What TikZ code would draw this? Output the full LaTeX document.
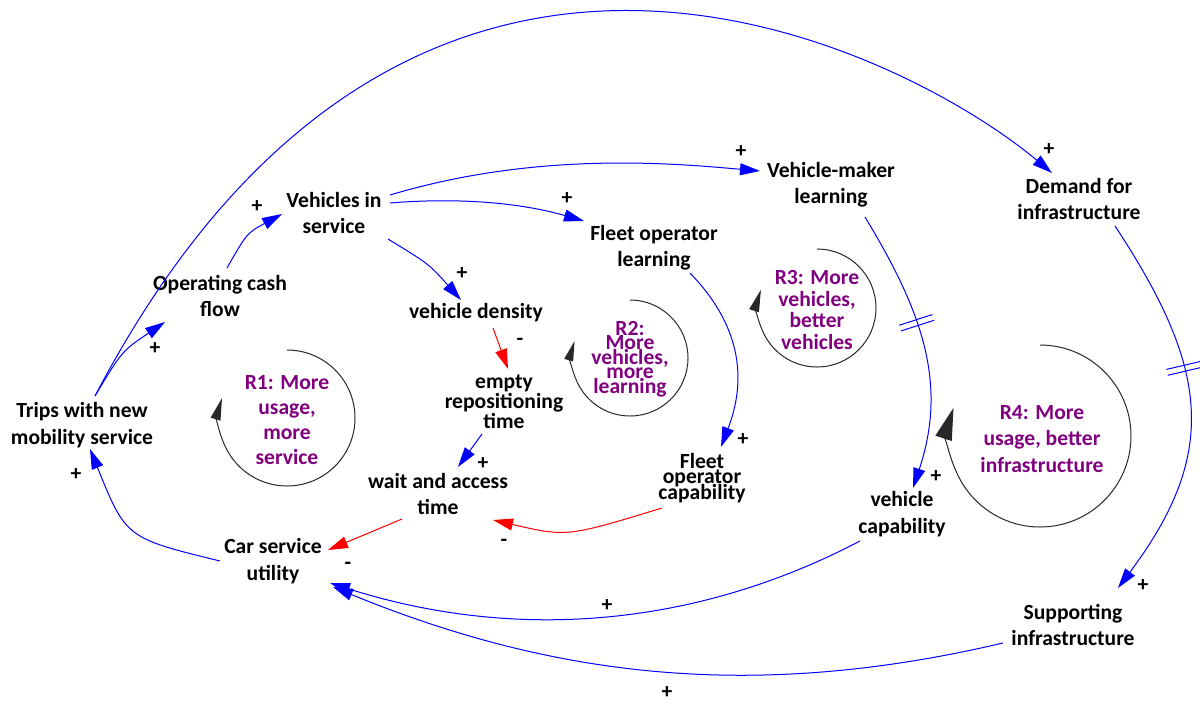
\documentclass[tikz,border=0pt]{standalone}
\usepackage{fontspec}
\setmainfont{Carlito}
\usetikzlibrary{arrows.meta,calc}
\definecolor{linkblue}{RGB}{0,0,255}
\definecolor{linkred}{RGB}{255,0,0}
\definecolor{loopviolet}{RGB}{128,0,128}
\definecolor{loopgray}{RGB}{40,40,40}
% bold label font with a chosen line distance
\newcommand{\varfont}[1]{\fontsize{10.8}{#1}\selectfont\bfseries\lineskiplimit=-20pt\relax}

\begin{document}
\begin{tikzpicture}[x=0.5pt,y=-0.5pt,
  var/.style={font=\varfont{13.2}, align=center, inner sep=0pt, text=black},
  tight/.style={font=\varfont{#1}},
  loopname/.style={var, text=loopviolet},
  sign/.style={font=\varfont{13.2}, inner sep=0pt, text=black},
  pos link/.style={draw=linkblue, line width=0.5pt, -{Triangle[length=10pt,width=6pt]}},
  neg link/.style={draw=linkred, line width=0.5pt, -{Triangle[length=10pt,width=6pt]}},
  loopline/.style={draw=loopgray, line width=0.5pt},
  delaymark/.style={minimum width=2.5pt, minimum height=17pt, inner sep=0pt, sloped},
]
\useasboundingbox (0,0) rectangle (1200,703);

% variables
\node[var] (trips) at (82,425) {Trips with new\\mobility service};
\node[var] (cash) at (220,296) {Operating cash\\flow};
\node[var] (fleet) at (334,213) {Vehicles in\\service};
\node[var] (density) at (476,313) {vehicle density};
\node[var, tight=10] (empty) at (504,402) {empty\\repositioning\\time};
\node[var] (wait) at (438,494) {wait and access\\time};
\node[var] (utility) at (273,561) {Car service\\utility};
\node[var] (fol) at (654,248) {Fleet operator\\learning};
\node[var] (vml) at (831,185) {Vehicle-maker\\learning};
\node[var] (demand) at (1079,199) {Demand for\\infrastructure};
\node[var, tight=7.75] (foc) at (702,478) {Fleet\\operator\\capability};
\node[var] (vcap) at (902,514) {vehicle\\capability};
\node[var] (infra) at (1073,625) {Supporting\\infrastructure};

% loop names
\node[loopname, tight=12.5] (r1) at (287,420) {R1: More\\usage,\\more\\service};
\node[loopname, tight=7.3] (r2) at (630,359) {R2:\\More\\vehicles,\\more\\learning};
\node[loopname, tight=10.8] (r3) at (817,310) {R3: More\\vehicles,\\better\\vehicles};
\node[loopname] (r4) at (1042,439) {R4: More\\usage, better\\infrastructure};

% loop arrows
\draw[loopline, -{Triangle[length=11pt,width=5pt]}] ([shift={(0,-70)}]r1.center) arc[start angle=-90, end angle=197, radius=68];
\draw[loopline, -{Triangle[length=10pt,width=4.5pt]}] ([shift={(0,-59)}]r2.center) arc[start angle=-90, end angle=197, radius=58];
\draw[loopline, -{Triangle[length=11pt,width=5pt]}] ([shift={(0,-61)}]r3.center) arc[start angle=-90, end angle=198, radius=59];
\draw[loopline, -{Triangle[length=16pt,width=8.5pt]}] ([shift={(-2,-94)}]r4.center) arc[start angle=-90, end angle=198, radius=91];

% causal links
\draw[pos link] ($(trips)+(13,-29)$) .. controls (122,351) .. ($(cash)+(-55,26)$);
\draw[pos link] ($(trips)+(13,-29)$) .. controls (415,-215) and (915,58) .. ($(demand)+(-27,-26)$);
\draw[pos link] ($(cash)+(7,-28)$) .. controls (247,233) .. ($(fleet)+(-52,1)$);
\draw[pos link] ($(fleet)+(56,-18)$) .. controls (540,150) and (680,164) .. ($(vml)+(-71,-14)$);
\draw[pos link] ($(fleet)+(56,-10)$) .. controls (450,198) and (514,201) .. ($(fol)+(-70,-27)$);
\draw[pos link] ($(fleet)+(54,26)$) .. controls (429,264) .. ($(density)+(-15,-13)$);
\draw[neg link] ($(density)+(17,15)$) -- ($(empty)+(4,-33)$);
\draw[pos link] ($(empty)+(-22,32)$) -- ($(wait)+(20,-27)$);
\draw[neg link] ($(foc)+(-40,30)$) .. controls (567,537) .. ($(wait)+(55,26)$);
\draw[neg link] ($(wait)+(-36,25)$) -- ($(utility)+(55,-11)$);
\draw[pos link] ($(utility)+(-53,0)$) .. controls (126,538) .. ($(trips)+(8,24)$);
\draw[pos link] ($(vcap)+(-42,27)$) .. controls (690,630) and (510,640) .. ($(utility)+(57,22)$);
\draw[pos link] ($(infra)+(-70,18)$) .. controls (760,700) and (560,680) .. ($(utility)+(60,26)$);
\draw[pos link] ($(fol)+(36,25)$) .. controls (750,335) and (742,392) .. ($(foc)+(19,-31)$);
\draw[pos link] ($(vml)+(34,32)$) .. controls (922,311) and (948,383) .. node[delaymark, pos=0.4] (d1) {} ($(vcap)+(11,-26)$);
\draw[pos link] ($(demand)+(36,27)$) .. controls (1208,367) and (1220,452) .. node[delaymark, pos=0.38] (d2) {} ($(infra)+(45,-37)$);

% delay marks
\draw[linkblue, line width=0.5pt] (d1.north west) -- (d1.south west) (d1.north east) -- (d1.south east);
\draw[linkblue, line width=0.5pt] (d2.north west) -- (d2.south west) (d2.north east) -- (d2.south east);

% link polarities
\node[sign] (s1) at (155,349) {+};
\node[sign] (s2) at (1049,150) {+};
\node[sign] (s3) at (257,207) {+};
\node[sign] (s4) at (741,152) {+};
\node[sign] (s5) at (567,199) {+};
\node[sign] (s6) at (462,274) {+};
\node[sign] (s7) at (520,342) {-};
\node[sign] (s8) at (483,464) {+};
\node[sign] (s9) at (504,543) {-};
\node[sign] (s10) at (348,566) {-};
\node[sign] (s11) at (76,475) {+};
\node[sign] (s12) at (607,606) {+};
\node[sign] (s13) at (667,693) {+};
\node[sign] (s14) at (743,440) {+};
\node[sign] (s15) at (936,477) {+};
\node[sign] (s16) at (1143,586) {+};
\end{tikzpicture}
\end{document}
